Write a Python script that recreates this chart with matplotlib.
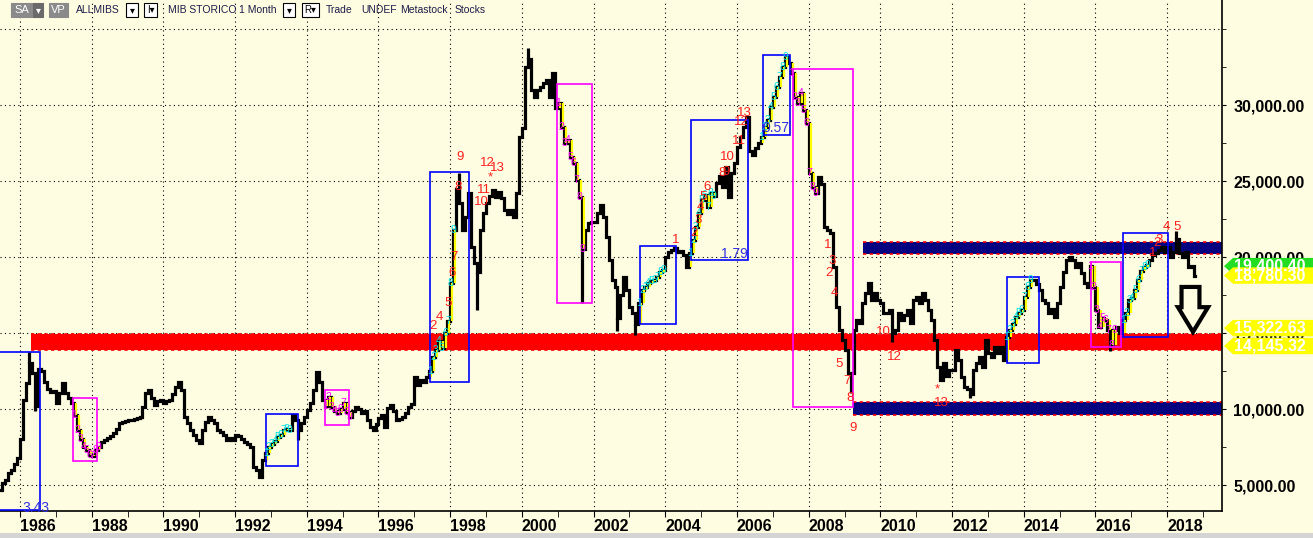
import numpy as np
import matplotlib.pyplot as plt
import matplotlib.transforms as mtransforms
from matplotlib.patches import Polygon, Rectangle
from matplotlib.ticker import FuncFormatter, MultipleLocator

plt.rcParams['font.family'] = ['Liberation Sans', 'DejaVu Sans']

# monthly closes of MIB storico, first value = June 1985
start_year, start_month = 1985, 6
closes_1985_1989 = [4700, 5100, 5300, 5800, 6000, 6400, 6800,
                    8000, 10600, 11700, 13000, 12400, 10200, 12600, 12500, 11800, 11300, 11100, 11200,
                    10400, 11050, 11700, 11050, 10700, 10400, 9600, 8600, 8000, 7500, 7300, 7000,
                    6900, 7300, 7500, 7800, 7960, 8100, 8200, 8420, 8700, 9080, 9150, 9200,
                    9280, 9300, 9350, 9420, 9470, 10130, 11050, 11250, 10700, 10260, 10500, 10600]
closes_1990_1999 = [10400, 10500, 10600, 11000, 11450, 11780, 11250, 9470, 9100, 8620, 8300, 7960,
                    7760, 8620, 9150, 9470, 9300, 9100, 8620, 8500, 8300, 7960, 8100, 7960,
                    8300, 8200, 8000, 7830, 7700, 7500, 6180, 6000, 5530, 6640, 7100, 7500,
                    7700, 7900, 8160, 8300, 8620, 8700, 8620, 9600, 9280, 8600, 9080, 9500,
                    9930, 10400, 11250, 12430, 11800, 10600, 10200, 10800, 10100, 9900, 9740, 10000,
                    10400, 9800, 9470, 9900, 10130, 10000, 9740, 9900, 9300, 8820, 8620, 9000,
                    9400, 9600, 8820, 10060, 10260, 9900, 9280, 9350, 9450, 9740, 10130, 10300,
                    12100, 11580, 11900, 11800, 12100, 12500, 13400, 13900, 14500, 14000, 15000, 15800,
                    18300, 21800, 24500, 23550, 21800, 22600, 24200, 20650, 19600, 19000, 21800, 22900,
                    23550, 24000, 24400, 23950, 24300, 23900, 23100, 22800, 23100, 22600, 24200, 27900]
closes_2000_2009 = [28500, 32500, 33000, 31000, 30500, 31000, 31200, 31450, 31650, 30500, 32100, 29800,
                    30100, 28550, 27500, 27700, 26600, 26200, 25050, 23950, 20500, 21800, 22250, 22300,
                    22300, 22900, 23400, 22600, 21300, 19800, 18500, 18000, 16000, 17500, 18700, 17800,
                    16700, 16300, 15600, 16970, 17830, 18000, 18300, 18400, 18490, 18700, 19000, 19140,
                    20000, 20300, 20460, 20600, 20300, 20400, 20100, 19340, 20260, 21100, 21970, 22900,
                    23750, 24100, 23300, 24200, 24000, 24870, 25300, 24600, 25900, 23950, 25500, 26200,
                    27240, 27900, 28550, 29200, 27000, 26700, 27200, 27500, 27900, 28550, 29000, 29870,
                    30500, 31200, 31840, 32500, 33150, 32760, 32100, 30500, 30130, 30800, 29670, 28800,
                    25500, 24600, 24200, 25260, 24800, 22000, 21800, 21600, 19340, 16700, 15200, 14540,
                    13880, 12370, 12400, 15200, 15850, 15660, 16970, 17630, 18300, 17170, 17630, 17170]
closes_2010_2018 = [16970, 16300, 16300, 16500, 15000, 15200, 16300, 15850, 16200, 16500, 15660, 17170,
                    17370, 17000, 17630, 17170, 16500, 15850, 14540, 12760, 11900, 13030, 12200, 12570,
                    12570, 13880, 13200, 12100, 11450, 11300, 11000, 12570, 13030, 13400, 12760, 14540,
                    13700, 13400, 14080, 13700, 14080, 13200, 14740, 15200, 15600, 16050, 16300, 16500,
                    17370, 18030, 18490, 18490, 18200, 17830, 17170, 16970, 16300, 16600, 16050, 17000,
                    18000, 19000, 19800, 20000, 19800, 19340, 19600, 18950, 18300, 18000, 19400, 18000,
                    16500, 15400, 16000, 15850, 15200, 14200, 15200, 15400, 15000, 15850, 16300, 17170,
                    17300, 17830, 18490, 19100, 19340, 19500, 19800, 20100, 20260, 20460, 20650, 20300,
                    20650, 20000, 20300, 21200, 20260, 20000, 20300, 19340, 19400, 18780]

# monthly extremes sticking out of the close-to-close bars
wick_years = [1986, 1986, 1993, 1998, 1998, 2000, 2001, 2002, 2003, 2009, 2010, 2012, 2016, 2018]
wick_months = [4, 6, 10, 4, 10, 3, 9, 9, 3, 3, 5, 7, 6, 4]
wick_values = [13750, 9900, 7960, 25500, 16500, 33750, 17000, 15100, 14870, 11050, 14400, 10700, 13800, 21700]

# TD setups: first bar of each 9-count
setup_years = [1987, 1992, 1994, 1997, 2001, 2003, 2004, 2006, 2007, 2013, 2015, 2016]
setup_months = [7, 11, 7, 6, 1, 4, 9, 9, 7, 7, 11, 10]
setup_kinds = ['sell', 'buy', 'sell', 'buy', 'sell', 'buy', 'buy', 'buy', 'sell', 'buy', 'sell', 'buy']

# countdown labels (date, value, text)
count_dates = [1997.52, 1997.69, 1997.94, 1998.05, 1998.11, 1998.22, 1998.27, 1998.86, 1998.94, 1999.03,
               1999.31, 1999.11,
               2004.30, 2004.80, 2004.91, 2004.97, 2005.05, 2005.16, 2005.58, 2005.69, 2005.72, 2006.06,
               2006.11, 2006.22,
               2008.52, 2008.66, 2008.57, 2008.73, 2008.85, 2009.06, 2009.15, 2009.24,
               2010.07, 2010.38, 2011.58, 2011.69,
               2017.60, 2017.72, 2017.77, 2017.99, 2018.27]
count_values = [15460, 16050, 16970, 18950, 20000, 24600, 26580, 23620, 24410, 26180, 25860, 25260,
                21120, 21580, 22430, 23290, 23950, 24600, 25530, 25590, 26580, 27630, 28880, 29470,
                20790, 19740, 18950, 17630, 12960, 11840, 10720, 8750,
                15070, 13420, 11320, 10390,
                20260, 20920, 21120, 21970, 21970]
count_texts = ['2', '4', '5', '6', '7', '8', '9', '10', '11', '12', '13', '*',
               '1', '2', '3', '4', '5', '6', '8', '9', '10', '11', '12', '13',
               '1', '3', '2', '4', '5', '7', '8', '9',
               '10', '12', '*', '13',
               '1', '2', '3', '4', '5']

# setup boxes
box_start = [1985.2, 1987.48, 1992.86, 1994.51, 1997.44, 2000.98, 2003.29, 2004.72, 2006.73, 2007.56,
             2013.53, 2015.87, 2016.77]
box_end = [1986.56, 1988.15, 1993.75, 1995.18, 1998.52, 2001.96, 2004.30, 2006.31, 2007.48, 2009.24,
           2014.42, 2016.71, 2018.02]
box_low = [3355, 6580, 6250, 8950, 11780, 16970, 15590, 19800, 28030, 10130, 13030, 14080, 14740]
box_high = [13750, 10720, 9670, 11250, 25590, 31380, 20720, 29010, 33290, 32370, 18680, 19670, 21580]
box_colors = ['blue', 'magenta', 'blue', 'magenta', 'blue', 'magenta', 'blue', 'blue', 'blue', 'magenta',
              'blue', 'magenta', 'blue']
box_note_dates = [1986.45, 2005.94, 2007.09]
box_note_values = [3490, 20200, 28490]
box_note_texts = ['3.43', '1.79', '0.57']

# support / resistance bands
band_start = [1986.31, 2009.51, 2009.24]
band_low = [13880, 20200, 9600]
band_high = [14950, 21000, 10460]
band_colors = ['#FF0000', '#000080', '#000080']

# price tags on the right axis
tag_values = [19400.40, 18780.30, 15322.63, 14145.32]
tag_colors = ['#22DD22', '#FFFF00', '#FFFF00', '#FFFF00']

BG = '#FFFDE1'
W, H = 1313, 538

closes = np.array(closes_1985_1989 + closes_1990_1999 + closes_2000_2009 + closes_2010_2018, dtype=float)
t = start_year + (start_month - 1) / 12 + np.arange(len(closes)) / 12


def month_index(y, m):
    return (y - start_year) * 12 + (m - start_month)


fig = plt.figure(figsize=(W / 100, H / 100), dpi=100, facecolor=BG)
ax = fig.add_axes([0, 27 / H, 1222 / W, 511 / H], facecolor=BG)
x0, x1 = 1985.442, 2019.529

# dotted grid
for v in range(5000, 40000, 5000):
    ax.axhline(v, color='black', lw=0.8, ls=(0, (1, 3)), zorder=1)
for yr in range(1986, 2020, 2):
    ax.axvline(yr, color='black', lw=0.8, ls=(0, (1, 3)), zorder=1)

# bands
for s, lo, hi, c in zip(band_start, band_low, band_high, band_colors):
    ax.add_patch(Rectangle((s, lo), x1 - s, hi - lo, facecolor=c, edgecolor='none', zorder=2))
    ax.hlines([lo, hi], s, x1, colors='#FF0000', lw=1.2, ls=(0, (2, 2)), zorder=2.1)

# price bars (close to close steps)
xs = np.repeat(t, 2)[1:]
ys = np.repeat(closes, 2)[:-1]
xs = np.append(xs, t[-1] + 0.03)
ys = np.append(ys, closes[-1])
ax.plot(xs, ys, color='black', lw=2.3, solid_joinstyle='miter', zorder=3)
for y, m, v in zip(wick_years, wick_months, wick_values):
    i = month_index(y, m)
    ax.vlines(t[i], closes[i], v, color='black', lw=2.3, zorder=3)

# setups: yellow bars + counts
for y, m, k in zip(setup_years, setup_months, setup_kinds):
    i0 = month_index(y, m)
    col = '#00E0E0' if k == 'buy' else '#FF00FF'
    for n in range(9):
        i = i0 + n
        if i >= len(closes):
            break
        ax.vlines(t[i] + 0.06, closes[i - 1], closes[i], color='#FFFF00', lw=1.6, zorder=3.5)
        ax.text(t[i] + 0.02, closes[i], str(n + 1), color=col, fontsize=7.5, ha='center', va='center',
                zorder=5)

# boxes
for s, e, lo, hi, c in zip(box_start, box_end, box_low, box_high, box_colors):
    ec = '#0000FF' if c == 'blue' else '#FF00FF'
    ax.add_patch(Rectangle((s, lo), e - s, hi - lo, fill=False, edgecolor=ec, lw=1.2, zorder=4))
for d, v, s in zip(box_note_dates, box_note_values, box_note_texts):
    ax.text(d, v, s, color='#3030E0', fontsize=10, ha='center', va='center', zorder=5)

for d, v, s in zip(count_dates, count_values, count_texts):
    ax.text(d, v, s, color='#FF2020', fontsize=9.5, ha='center', va='center', zorder=5)

# down arrow
ax.add_patch(Polygon([(2018.40, 18030), (2018.90, 18030), (2018.90, 16700), (2019.14, 16700),
                      (2018.72, 15070), (2018.30, 16700), (2018.40, 16700)],
                     closed=True, facecolor=BG, edgecolor='black', lw=3, zorder=5))

# axes styling
for sp in ['top', 'left']:
    ax.spines[sp].set_visible(False)
ax.spines['right'].set_linewidth(1.2)
ax.spines['bottom'].set_linewidth(1.2)
ax.yaxis.tick_right()
ax.set_yticks(range(5000, 35000, 5000))
ax.yaxis.set_minor_locator(MultipleLocator(2500))
ax.yaxis.set_major_formatter(FuncFormatter(lambda v, p: '{:,.2f}'.format(v)))
ax.tick_params(axis='y', which='major', direction='out', length=3, pad=5, labelsize=11.5)
ax.tick_params(axis='y', which='minor', direction='out', length=3)
ax.set_xticks(range(1986, 2020, 2))
ax.set_xticks(range(1987, 2020, 2), minor=True)
ax.tick_params(axis='x', which='both', direction='out', length=4, pad=2, labelsize=11.5)
for lab in ax.get_yticklabels() + ax.get_xticklabels():
    lab.set_fontweight('bold')
for lab in ax.get_xticklabels():
    lab.set_horizontalalignment('left')
ax.set_xlim(x0, x1)
ax.set_ylim(3290, 36908)

# right price tags
blend = mtransforms.blended_transform_factory(fig.transFigure, ax.transData)
h = 540
for v, c in zip(tag_values, tag_colors):
    ax.add_patch(Polygon([(1224 / W, v), (1233 / W, v + h), (1.0, v + h), (1.0, v - h), (1233 / W, v - h)],
                         closed=True, transform=blend, facecolor=c, edgecolor='none', clip_on=False,
                         zorder=6))
    ax.text(1234 / W, v, '{:,.2f}'.format(v), transform=blend, color='white', fontsize=11.5,
            fontweight='bold', va='center', ha='left', clip_on=False, zorder=6.5)

# bottom strip
fig.add_artist(Rectangle((0, 0), 1, 5 / H, transform=fig.transFigure, facecolor='#D4D4D4', edgecolor='none'))


# toolbar
def fx(px):
    return px / W


def fy(py):
    return 1 - py / H


def tbox(xa, xb, face, edge):
    fig.add_artist(Rectangle((fx(xa), fy(17)), fx(xb - xa), 14 / H, transform=fig.transFigure,
                             facecolor=face, edgecolor=edge, lw=0.8))


tbox(11, 33, '#8A8A8A', '#8A8A8A')
tbox(33, 43, '#6A6A6A', '#6A6A6A')
tbox(49, 68, '#8A8A8A', '#8A8A8A')
tbox(126, 138, 'white', 'black')
tbox(144, 157, 'white', 'black')
tbox(283, 295, 'white', 'black')
tbox(302, 319, 'white', 'black')
fig.text(fx(22), fy(10), 'SA', color='white', fontsize=8, ha='center', va='center')
fig.text(fx(38), fy(10), '▾', color='white', fontsize=7, ha='center', va='center')
fig.text(fx(58.5), fy(10), 'VP', color='white', fontsize=8, ha='center', va='center')
fig.text(fx(132), fy(10), '▾', color='black', fontsize=7, ha='center', va='center')
fig.text(fx(150.5), fy(10), 'I▾', color='black', fontsize=7, ha='center', va='center')
fig.text(fx(289), fy(10), '▾', color='black', fontsize=7, ha='center', va='center')
fig.text(fx(310.5), fy(10), 'R▾', color='black', fontsize=7, ha='center', va='center')
for px, s in [(76, 'ALLMIBS'), (168, 'MIB STORICO'), (239, '1 Month'), (326, 'Trade'), (361, 'UNDEF'),
              (400, 'Metastock'), (455, 'Stocks')]:
    fig.text(fx(px), fy(10), s, color='#1C1C48', fontsize=7.5, ha='left', va='center')

fig.savefig('out.png', dpi=100, facecolor=BG)
